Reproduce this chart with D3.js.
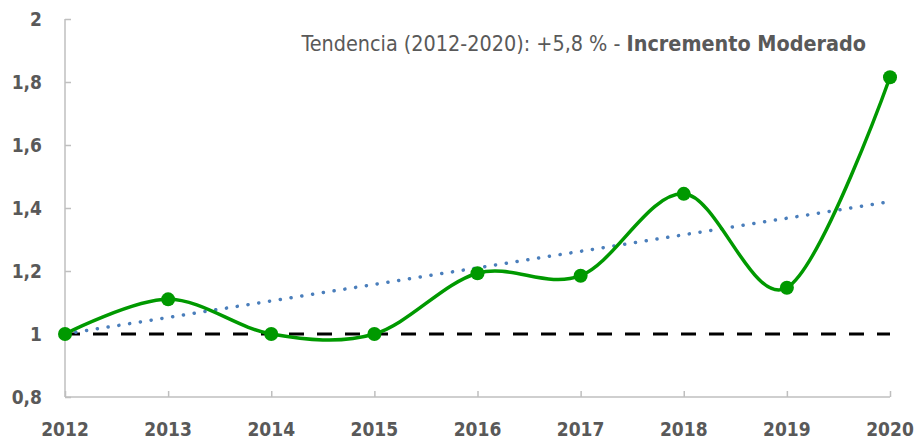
<!DOCTYPE html>
<html>
<head>
<meta charset="utf-8">
<script src="https://d3js.org/d3.v7.min.js"></script>
<style>
  body { margin: 0; background: #fff; }
  svg { display: block; }
  text { font-family: "DejaVu Sans Condensed", "DejaVu Sans", sans-serif; font-stretch: condensed; }
</style>
</head>
<body>
<div id="chart"></div>
<script>
// data
const years = [2012, 2013, 2014, 2015, 2016, 2017, 2018, 2019, 2020];
const values = [1.0, 1.11, 1.0, 1.0, 1.193, 1.185, 1.445, 1.147, 1.815];
const trendYears = [2012, 2020];
const trendValues = [1.0, 1.42];
const baseValue = 1;
const yTicks = [0.8, 1, 1.2, 1.4, 1.6, 1.8, 2];
const noteText = "Tendencia (2012-2020): +5,8 % - ";
const noteBold = "Incremento Moderado";

const width = 920, height = 441;
const margin = {top: 19, right: 30, bottom: 44, left: 65};
const grey = "#595959", axisGrey = "#bfbfbf";

const svg = d3.select("#chart").append("svg")
  .attr("width", width)
  .attr("height", height);

const x = d3.scaleLinear()
  .domain([2012, 2020])
  .range([margin.left, width - margin.right]);
const y = d3.scaleLinear()
  .domain([0.8, 2])
  .range([height - margin.bottom, margin.top]);

const fmt = d => String(d).replace(".", ",");

// y axis
const yAxis = svg.append("g")
  .attr("transform", "translate(" + margin.left + ",0)")
  .call(d3.axisRight(y).tickValues(yTicks).tickSize(6).tickFormat(""));
yAxis.select(".domain").attr("stroke", axisGrey).attr("stroke-width", 1.5)
  .attr("d", "M0," + y(2) + "V" + y(0.8));
yAxis.selectAll(".tick line").attr("stroke", axisGrey).attr("stroke-width", 1.5);

svg.append("g").selectAll("text")
  .data(yTicks)
  .join("text")
  .attr("x", 42)
  .attr("y", d => y(d))
  .attr("dy", "0.36em")
  .attr("text-anchor", "end")
  .attr("font-weight", "bold")
  .attr("font-size", "19px")
  .attr("fill", grey)
  .text(fmt);

// x axis
const xAxis = svg.append("g")
  .attr("transform", "translate(0," + y(0.8) + ")")
  .call(d3.axisTop(x).tickValues(years).tickSize(6).tickFormat(""));
xAxis.select(".domain").attr("stroke", axisGrey).attr("stroke-width", 1.5)
  .attr("d", "M" + x(2012) + ",0H" + x(2020));
xAxis.selectAll(".tick line").attr("stroke", axisGrey).attr("stroke-width", 1.5);

svg.append("g").selectAll("text")
  .data(years)
  .join("text")
  .attr("x", d => x(d))
  .attr("y", 436)
  .attr("text-anchor", "middle")
  .attr("font-weight", "bold")
  .attr("font-size", "19px")
  .attr("fill", grey)
  .text(d => d);

// baseline at 1
svg.append("line")
  .attr("x1", x(2012)).attr("x2", x(2020))
  .attr("y1", y(baseValue)).attr("y2", y(baseValue))
  .attr("stroke", "#000")
  .attr("stroke-width", 3.2)
  .attr("stroke-dasharray", "15,13");

// trend line
const trendData = trendYears.map((d, i) => [d, trendValues[i]]);
svg.append("path")
  .datum(trendData)
  .attr("fill", "none")
  .attr("stroke", "#4a7ebb")
  .attr("stroke-width", 3.5)
  .attr("stroke-linecap", "round")
  .attr("stroke-dasharray", "0.1,10.8")
  .attr("d", d3.line().x(d => x(d[0])).y(d => y(d[1])));

// series
const series = years.map((d, i) => [d, values[i]]);
svg.append("path")
  .datum(series)
  .attr("fill", "none")
  .attr("stroke", "#009900")
  .attr("stroke-width", 3.5)
  .attr("d", d3.line().curve(d3.curveCardinal.tension(0)).x(d => x(d[0])).y(d => y(d[1])));

svg.append("g").selectAll("circle")
  .data(series)
  .join("circle")
  .attr("cx", d => x(d[0]))
  .attr("cy", d => y(d[1]))
  .attr("r", 7)
  .attr("fill", "#009900");

// annotation
const note = svg.append("text")
  .attr("x", 866)
  .attr("y", 51)
  .attr("text-anchor", "end")
  .attr("font-size", "21.4px")
  .attr("fill", grey);
note.append("tspan").text(noteText);
note.append("tspan").attr("font-weight", "bold").text(noteBold);
</script>
</body>
</html>
